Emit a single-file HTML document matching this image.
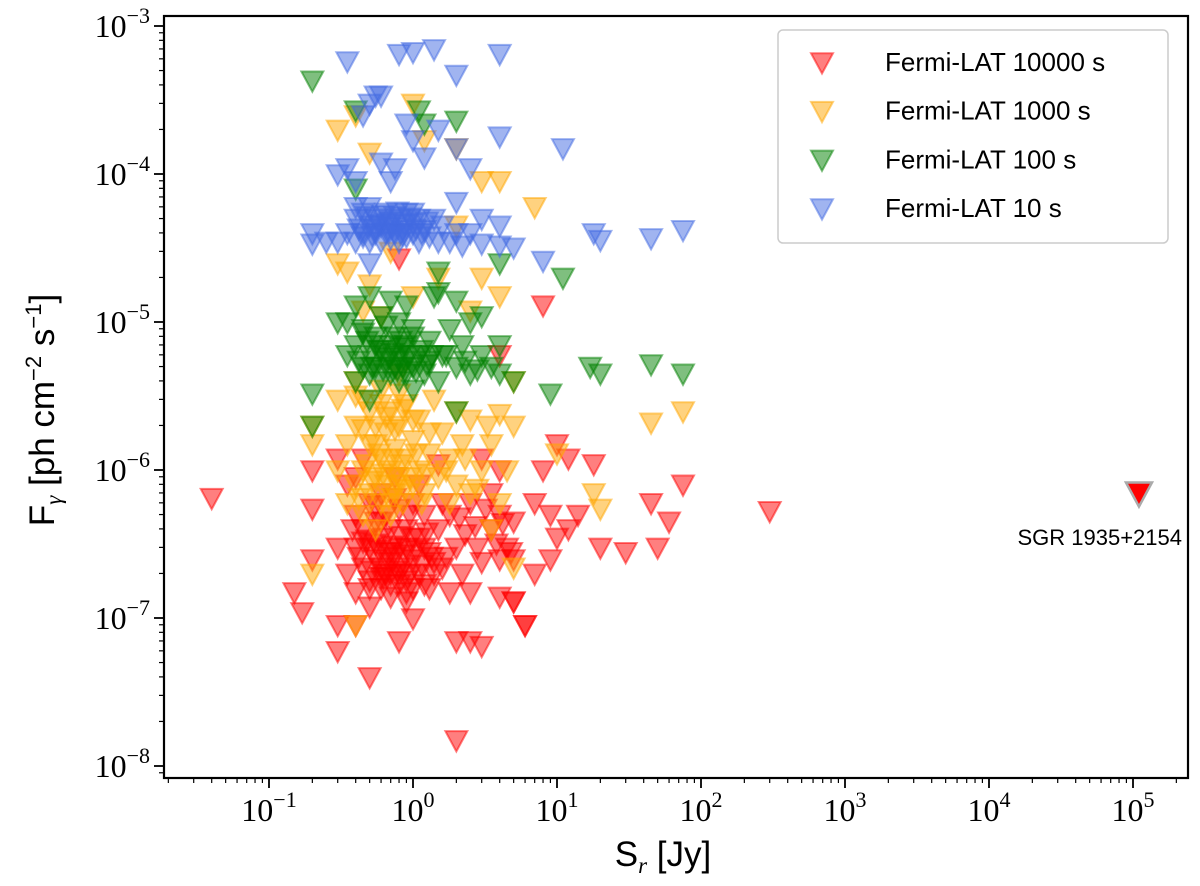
<!DOCTYPE html>
<html><head><meta charset="utf-8"><style>html,body{margin:0;padding:0;background:#fff;}svg{display:block;}</style></head>
<body>
<svg id="chart" width="1200" height="886" viewBox="0 0 1200 886" xmlns="http://www.w3.org/2000/svg"></svg>
<script>
const xTickExps = [-1, 0, 1, 2, 3, 4, 5];
const yTickExps = [-8, -7, -6, -5, -4, -3];
const seriesNames = ["Fermi-LAT 10000 s", "Fermi-LAT 1000 s", "Fermi-LAT 100 s", "Fermi-LAT 10 s"];
const redX = [0.04,0.15,0.17,0.2,0.2,0.2,0.3,0.3,0.3,0.35,0.35,0.4,0.4,0.4,0.4,0.45,0.45,0.45,0.5,0.5,0.5,0.5,0.55,0.55,0.6,0.6,0.6,0.6,0.65,0.65,0.7,0.7,0.7,0.75,0.75,0.8,0.8,0.8,0.85,0.9,0.9,1.0,1.0,1.0,1.1,1.1,1.2,1.2,1.3,1.4,1.5,1.5,1.6,1.8,1.8,2.0,2.0,2.2,2.5,2.5,2.8,3.0,3.0,3.5,3.5,4.0,4.0,4.0,4.5,5.0,5.0,5.0,6,7,7,8,8,9,9,10,10,12,12,14,18,20,30,45,50,60,75,300,0.3,0.5,2,2.5,3,0.8,1,0.4,4,5,6,0.8,4,0.9,0.55,0.65,0.7,0.9,1.1,1.3,0.45,0.6,
  0.42,0.48,0.52,0.58,0.62,0.68,0.72,0.78,0.82,0.88,0.95,1.05,1.15,1.25,1.35,0.5,0.6,0.7,0.8,0.9,1.0,1.2,1.4,1.7,2.3,2.7,3.2,3.8,4.2,4.8,0.38,0.55,0.75,0.95,1.6,2.1];
const redY = [6.5e-7,1.5e-7,1.1e-7,5.5e-7,2.5e-7,1.0e-6,3e-7,1.2e-6,6e-8,2e-7,8e-7,1.5e-7,3e-7,5e-7,9e-7,2.2e-7,4e-7,1.2e-6,1.8e-7,3e-7,6e-7,4e-8,2.5e-7,4.5e-7,1.6e-7,2.2e-7,3.5e-7,7e-7,2.8e-7,5e-7,1.4e-7,2e-7,4e-7,2.6e-7,9e-7,1.7e-7,3e-7,5.5e-7,2.2e-7,1.5e-7,4e-7,2.5e-7,3.5e-7,6e-7,2e-7,8e-7,3e-7,5e-7,1.6e-7,2.4e-7,4e-7,1.1e-6,2.2e-7,1.5e-7,5e-7,1.5e-8,3e-7,2e-7,1.5e-7,6e-7,3e-7,2.4e-7,1.2e-6,4e-7,7e-7,2.5e-7,5e-7,1e-6,3e-7,2.5e-7,4.5e-7,1.3e-7,9e-8,6e-7,2e-7,1e-6,1.3e-5,2.5e-7,5e-7,3.5e-7,1.5e-6,4e-7,1.2e-6,5e-7,1.1e-6,3e-7,2.8e-7,6e-7,3e-7,4.5e-7,8e-7,5.3e-7,9e-8,1.2e-7,7e-8,7e-8,6.5e-8,7e-8,1e-7,9e-8,1.4e-7,1.3e-7,9e-8,2.7e-5,6e-6,1.3e-7,3.2e-7,2e-7,2.8e-7,3e-7,3.5e-7,2.8e-7,3.3e-7,4.5e-7,
  2.6e-7,3.4e-7,2.1e-7,2.9e-7,1.9e-7,2.4e-7,3.1e-7,2.1e-7,3.6e-7,2.7e-7,2e-7,2.9e-7,2.3e-7,3.8e-7,2.6e-7,1.6e-7,1.9e-7,1.7e-7,2e-7,1.8e-7,1.6e-7,1.7e-7,2e-7,2.6e-7,3.7e-7,4.2e-7,5.5e-7,3.2e-7,4.4e-7,2.8e-7,4e-7,5.8e-7,6.5e-7,5e-7,6e-7,4.8e-7];
const orangeX = [0.2,0.2,0.2,0.3,0.3,0.3,0.3,0.35,0.35,0.35,0.4,0.4,0.4,0.4,0.4,0.45,0.45,0.45,0.45,0.5,0.5,0.5,0.5,0.5,0.55,0.55,0.55,0.6,0.6,0.6,0.6,0.65,0.65,0.7,0.7,0.7,0.7,0.75,0.75,0.8,0.8,0.8,0.85,0.9,0.9,1.0,1.0,1.0,1.0,1.1,1.1,1.2,1.2,1.3,1.4,1.5,1.5,1.6,1.8,1.8,2.0,2.0,2.0,2.0,2.2,2.5,2.5,2.5,3.0,3.0,3.0,3.5,3.5,4.0,4.0,4.0,4.0,4.5,5.0,5.0,5.0,7,10,18,20,45,75,
  0.42,0.48,0.52,0.58,0.62,0.68,0.72,0.78,0.82,0.88,0.95,1.05,1.15,1.25,0.45,0.55,0.65,0.75,0.85,1.0,1.3,1.7,2.3,2.8,3.3,0.4,0.6,0.8];
const orangeY = [2e-6,2e-7,1.5e-6,2.5e-5,3e-6,1e-6,2e-4,1.5e-6,6e-7,2.2e-5,9e-8,8e-7,2e-6,4e-6,2.5e-4,1e-6,5e-7,3e-6,1.2e-5,7e-7,1.5e-6,2.5e-6,1.4e-4,1.8e-5,9e-7,4e-7,2e-6,6e-7,1.2e-6,3.5e-6,1.1e-5,8e-7,1.8e-6,5e-7,1e-6,2.5e-6,3e-5,7e-7,1.4e-6,9e-7,2e-6,4.5e-6,6e-7,1.2e-6,2.8e-6,3e-4,8e-7,1.6e-6,1.5e-5,1e-6,2.2e-6,7e-7,1.7e-4,1.3e-6,3e-6,9e-7,2e-5,1.8e-6,6e-7,1.2e-6,2.5e-6,8e-7,1.5e-4,4.5e-5,1.5e-6,7e-7,2.2e-6,1.2e-5,1e-6,9e-5,2e-5,1.5e-6,4e-7,9e-5,2.4e-6,1.5e-5,6e-7,1e-6,2e-6,2.2e-7,4e-6,6e-5,1.3e-6,7e-7,5.5e-7,2.1e-6,2.5e-6,
  6.5e-7,1.1e-6,8.5e-7,1.3e-6,9.5e-7,6.5e-7,1.2e-6,8e-7,1.1e-6,7.5e-7,9e-7,1.3e-6,6e-7,9.5e-7,1.9e-6,1.5e-6,2.3e-6,1.9e-6,2.6e-6,2.2e-6,1.8e-6,1e-6,1.2e-6,7.5e-7,2e-6,3.2e-6,2.8e-6,3.3e-6];
const greenX = [0.2,0.2,0.2,0.35,0.35,0.4,0.4,0.4,0.4,0.4,0.45,0.45,0.5,0.5,0.5,0.5,0.55,0.55,0.6,0.6,0.6,0.65,0.7,0.7,0.7,0.75,0.8,0.8,0.8,0.85,0.9,0.9,0.9,1.0,1.0,1.0,1.1,1.1,1.2,1.2,1.3,1.4,1.5,1.5,1.6,1.8,2.0,2.0,2.0,2.0,2.2,2.5,2.5,3.0,3.0,3.5,4.0,4.0,4.0,5.0,9,11,17,20,45,75,1.5,0.3,
  0.42,0.48,0.52,0.58,0.62,0.68,0.72,0.78,0.82,0.88,0.95,1.05,1.15,1.25,1.35,0.45,0.55,0.65,0.75,0.85,1.0,1.3,1.7,2.3,2.8];
const greenY = [4.3e-4,3.3e-6,2e-6,6e-6,1e-5,4e-6,7e-6,1.3e-5,2.7e-4,8e-5,5e-6,9e-6,4.5e-6,6e-6,1.5e-5,3e-6,5e-6,8e-6,4e-6,6.5e-6,1.1e-5,5.5e-6,4.5e-6,7e-6,1.4e-5,5e-6,4e-6,6e-6,1e-5,5e-6,4.5e-6,7e-6,1.3e-5,5e-6,3.5e-6,8e-6,2.7e-4,6e-6,4.5e-6,2.2e-4,5.5e-6,1.5e-5,4e-6,2.2e-5,6e-6,9e-6,2.3e-4,5e-6,1.4e-5,2.5e-6,7e-6,4.5e-6,1e-5,1.1e-5,6e-6,5e-6,2.5e-5,4.5e-6,7e-6,4e-6,3.3e-6,2e-5,5e-6,4.5e-6,5.2e-6,4.5e-6,1.6e-5,1e-5,
  5.5e-6,7.5e-6,5e-6,6.5e-6,4.8e-6,5.8e-6,6.2e-6,4.8e-6,7.5e-6,5.5e-6,6e-6,4.7e-6,6.5e-6,5.2e-6,6e-6,8.5e-6,7e-6,9.5e-6,8e-6,6.8e-6,9e-6,7.5e-6,6e-6,5.5e-6,4.8e-6];
const blueX = [0.2,0.2,0.3,0.35,0.35,0.35,0.4,0.4,0.4,0.4,0.45,0.45,0.45,0.5,0.5,0.5,0.5,0.5,0.55,0.55,0.55,0.6,0.6,0.6,0.6,0.65,0.65,0.7,0.7,0.7,0.75,0.75,0.8,0.8,0.8,0.85,0.9,0.9,0.9,1.0,1.0,1.0,1.0,1.1,1.1,1.2,1.2,1.3,1.4,1.4,1.5,1.5,1.6,1.8,2.0,2.0,2.0,2.0,2.2,2.5,2.5,3.0,3.0,4.0,4.0,4.0,4.0,5.0,8,11,18,20,45,75,0.3,0.25,
  0.42,0.48,0.52,0.58,0.62,0.68,0.72,0.78,0.82,0.88,0.95,1.05,1.15,1.25,0.45,0.55,0.65,0.75,0.85,1.0];
const blueY = [4e-5,3.4e-5,3.5e-5,5.8e-4,4e-5,1.1e-4,3.5e-5,5e-5,6e-5,9e-5,4e-5,5.5e-5,2.5e-4,3.5e-5,4.5e-5,6e-5,3e-4,2.5e-5,4e-5,5e-5,3.4e-4,3.5e-5,4.5e-5,1.2e-4,3.4e-4,4e-5,5.5e-5,3.7e-5,4.8e-5,9e-5,4e-5,1.1e-4,6.5e-4,3.5e-5,5e-5,4.2e-5,3.8e-5,5.5e-5,2.2e-4,6.7e-4,4e-5,4.7e-5,1.7e-4,3.5e-5,5e-5,4.2e-5,1.3e-4,3.8e-5,7e-4,5e-5,3.5e-5,2e-4,4.5e-5,3.5e-5,4.7e-4,4e-5,6.5e-5,1.5e-4,3.3e-5,4e-5,1.1e-4,3.4e-5,5e-5,6.5e-4,1.8e-4,3.3e-5,4.5e-5,3.2e-5,2.6e-5,1.5e-4,4e-5,3.6e-5,3.7e-5,4.2e-5,1e-4,3.5e-5,
  4.3e-5,5.2e-5,3.9e-5,4.6e-5,5.3e-5,4.1e-5,4.4e-5,5.6e-5,4e-5,4.6e-5,5.1e-5,4.3e-5,4e-5,4.8e-5,3.8e-5,4.3e-5,4.7e-5,5.2e-5,3.9e-5,5.5e-5];
const sgrX = [1.1e5];
const sgrY = [7e-7];

const NS = "http://www.w3.org/2000/svg";
const svg = document.getElementById("chart");
const L = 164, R = 1188, T = 16, B = 778;
const X0 = 413, XD = 144, Y0 = 26, YD = 148;
function sx(v){ return X0 + Math.log10(v) * XD; }
function sy(v){ return Y0 + (-3 - Math.log10(v)) * YD; }
function el(tag, attrs, parent){ const e = document.createElementNS(NS, tag); for (const k in attrs) e.setAttribute(k, attrs[k]); (parent||svg).appendChild(e); return e; }
function tri(g, x, y, s, fill, stroke, sw){
  const h = s*0.5;
  return el("path", {d:`M${x-h},${y-h*0.8}L${x+h},${y-h*0.8}L${x},${y+h*1.05}Z`, fill:fill, stroke:stroke, "stroke-width":sw, "stroke-linejoin":"miter"}, g);
}
const colors = ["rgba(255,0,0,0.5)","rgba(255,165,0,0.5)","rgba(0,128,0,0.5)","rgba(65,105,225,0.5)"];
const series = [[redX,redY],[orangeX,orangeY],[greenX,greenY],[blueX,blueY]];
const seriesKeys = ["red-10000s","orange-1000s","green-100s","blue-10s"];

const plot = el("g", {});


series.forEach((s, i) => {
  const g = el("g", {}, plot);
  
  
  s[0].forEach((xv, j) => {
    const p = tri(g, sx(xv), sy(s[1][j]), 22, colors[i], colors[i], 2);
    
    
  });
});
sgrX.forEach((xv, j) => {
  const p = tri(svg, sx(xv), sy(sgrY[j]), 26, "#ff0000", "#aaaaaa", 2.5);
  
  
});
const sgrT = el("text", {x:1182, y:545, "font-family":"Liberation Sans, sans-serif", "font-size":22, "text-anchor":"end", fill:"#000"});
sgrT.textContent = "SGR 1935+2154";



const frame = el("rect", {x:L, y:T, width:R-L, height:B-T, fill:"none", stroke:"#000", "stroke-width":2.2});



const xa = el("g", {});


for (let e = -2; e <= 5; e++) for (let m = 1; m <= 9; m++) {
  const x = X0 + (e + Math.log10(m)) * XD;
  if (x < L || x > R) continue;
  const len = m === 1 ? 10 : 5;
  el("line", {x1:x, x2:x, y1:B, y2:B+len, stroke:"#000", "stroke-width": m===1?1.8:1.2}, xa);
}
xTickExps.forEach(e => {
  const t = el("text", {x:X0 + e*XD, y:B+43, "font-family":"Liberation Serif, serif", "font-size":32, "text-anchor":"middle"}, xa);
  
  
  el("tspan", {}, t).textContent = "10";
  el("tspan", {dy:-14, "font-size":22}, t).textContent = (e < 0 ? "−" : "") + Math.abs(e);
});
const xt = el("text", {x:663, y:866, "font-family":"Liberation Sans, sans-serif", "font-size":35, "text-anchor":"middle"});


el("tspan", {}, xt).textContent = "S";
el("tspan", {dy:7, "font-size":23, "font-style":"italic", "font-family":"Liberation Serif, serif"}, xt).textContent = "r";
el("tspan", {dy:-7}, xt).textContent = " [Jy]";

const ya = el("g", {});


for (let e = -9; e <= -3; e++) for (let m = 1; m <= 9; m++) {
  const v = e + Math.log10(m);
  const y = Y0 + (-3 - v) * YD;
  if (y < T || y > B) continue;
  const len = m === 1 ? 10 : 5;
  el("line", {x1:L-len, x2:L, y1:y, y2:y, stroke:"#000", "stroke-width": m===1?1.8:1.2}, ya);
}
yTickExps.forEach(e => {
  const t = el("text", {x:L-14, y:Y0 + (-3 - e)*YD + 11, "font-family":"Liberation Serif, serif", "font-size":32, "text-anchor":"end"}, ya);
  
  
  el("tspan", {}, t).textContent = "10";
  el("tspan", {dy:-14, "font-size":22}, t).textContent = "−" + Math.abs(e);
});
const yt = el("text", {x:0, y:0, transform:"translate(54,410) rotate(-90)", "font-family":"Liberation Sans, sans-serif", "font-size":35, "text-anchor":"middle"});


el("tspan", {}, yt).textContent = "F";
el("tspan", {dy:7, "font-size":23, "font-family":"Liberation Serif, serif", "font-style":"italic"}, yt).textContent = "γ";
el("tspan", {dy:-7}, yt).textContent = " [ph cm";
el("tspan", {dy:-13, "font-size":22}, yt).textContent = "−2";
el("tspan", {dy:13}, yt).textContent = " s";
el("tspan", {dy:-13, "font-size":22}, yt).textContent = "−1";
el("tspan", {dy:13}, yt).textContent = "]";

const lg = el("g", {});


el("rect", {x:778, y:30, width:390, height:213, rx:5, fill:"rgba(255,255,255,0.85)", stroke:"#ccc", "stroke-width":1.5}, lg);
seriesNames.forEach((n, i) => {
  const y = 62 + i*48.7;
  const g = el("g", {}, lg);
  
  
  tri(g, 822, y, 22, colors[i], colors[i], 2);
  const t = el("text", {x:885, y:y+9, "font-family":"Liberation Sans, sans-serif", "font-size":26}, g);
  t.textContent = n;
});
</script>
</body></html>
